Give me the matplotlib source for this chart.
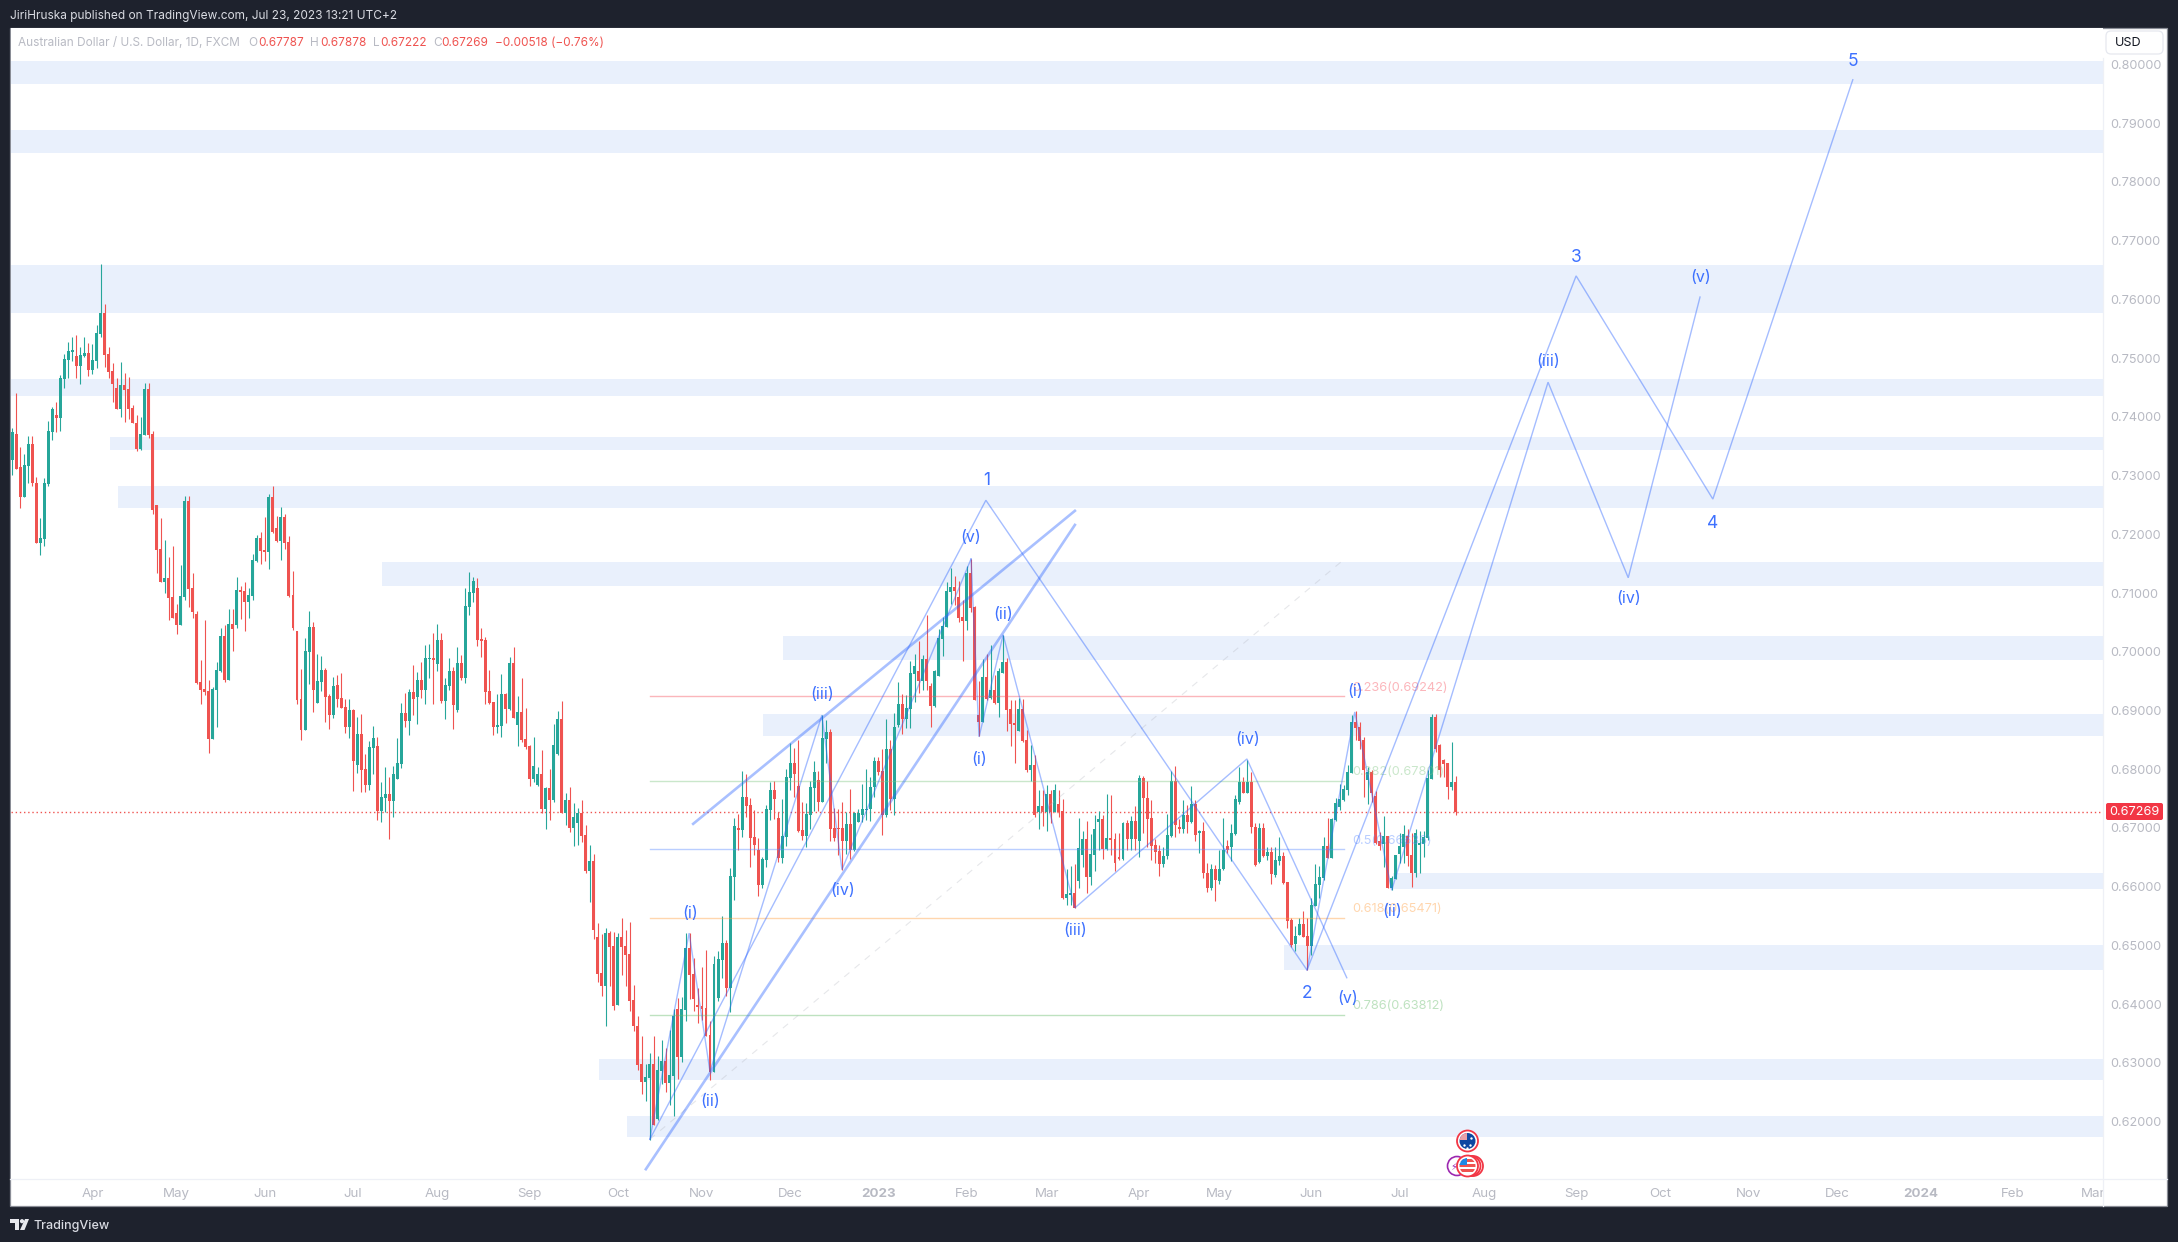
import numpy as np
import matplotlib
matplotlib.use("Agg")
import matplotlib.pyplot as plt
from matplotlib.patches import Rectangle, Circle, FancyBboxPatch, Polygon
from matplotlib.transforms import Bbox

plt.rcParams['font.family'] = ['Inter', 'DejaVu Sans']

# daily AUD/USD bars, in 1/10000 of a dollar
opens = [
    7327,7371,7315,7264,7316,7354,7287,7185,7192,7286,
    7374,7403,7398,7465,7497,7510,7504,7487,7504,7509,
    7480,7495,7541,7577,7507,7478,7449,7413,7454,7447,
    7415,7390,7345,7369,7447,7371,7250,7175,7119,7126,
    7093,7066,7046,7093,7257,7109,7064,6949,6937,6933,
    6852,6935,6967,7027,6952,7047,7046,7105,7103,7085,
    7095,7155,7194,7173,7170,7264,7211,7189,7230,7187,
    7097,7036,6920,6867,7000,7042,6913,6949,6969,6925,
    6893,6943,6921,6906,6872,6901,6807,6860,6801,6773,
    6836,6840,6729,6751,6758,6746,6783,6809,6896,6882,
    6931,6923,6952,6935,6988,6989,6979,7020,6916,6941,
    6967,6901,6981,6955,7076,7100,7108,7022,7020,6933,
    6914,6872,6874,6928,6903,6981,6875,6897,6851,6839,
    6783,6773,6792,6732,6768,6748,6826,6885,6725,6748,
    6700,6708,6725,6688,6627,6644,6514,6453,6431,6521,
    6499,6399,6514,6499,6485,6407,6363,6298,6268,6274,
    6298,6204,6286,6303,6266,6278,6392,6310,6390,6496,
    6451,6399,6397,6394,6348,6285,6411,6475,6504,6428,
    6617,6700,6697,6753,6739,6685,6663,6603,6646,6731,
    6765,6717,6649,6685,6785,6811,6772,6697,6686,6722,
    6768,6782,6744,6852,6863,6700,6700,6700,6678,6707,
    6663,6711,6722,6731,6732,6770,6814,6797,6722,6834,
    6750,6875,6911,6885,6903,6962,6967,6950,6988,6942,
    6908,6959,7022,7042,7102,7110,7093,7059,7052,7134,
    7076,6892,6880,6957,6921,6935,6913,6964,6983,6903,
    6879,6865,6903,6850,6799,6807,6727,6737,6727,6758,
    6727,6741,6729,6581,6586,6589,6610,6654,6681,6617,
    6654,6711,6715,6664,6683,6681,6651,6647,6708,6681,
    6712,6678,6785,6751,6717,6671,6661,6639,6652,6686,
    6780,6702,6698,6722,6710,6741,6691,6695,6624,6598,
    6630,6610,6630,6669,6668,6690,6744,6778,6760,6778,
    6702,6642,6700,6652,6659,6620,6644,6652,6608,6543,
    6502,6518,6537,6516,6499,6567,6603,6615,6669,6649,
    6714,6736,6748,6765,6794,6880,6872,6850,6782,6795,
    6755,6678,6673,6686,6598,6613,6656,6668,6686,6654,
    6623,6671,6673,6683,6783,6889,6841,6816,6811,6770,
    6779]
highs = [
    7381,7441,7349,7337,7367,7367,7298,7228,7296,7393,
    7417,7425,7471,7507,7527,7536,7539,7519,7536,7526,
    7524,7556,7660,7592,7519,7492,7466,7493,7475,7468,
    7420,7403,7400,7458,7458,7376,7250,7228,7190,7161,
    7180,7082,7148,7265,7265,7134,7070,6986,7054,6952,
    6940,6983,7041,7046,7073,7073,7128,7112,7119,7109,
    7167,7199,7204,7230,7269,7282,7231,7247,7235,7197,
    7138,7036,6971,7024,7070,7051,6996,6993,6973,6928,
    6957,6960,6964,6920,6920,6903,6889,6894,6826,6848,
    6874,6855,6778,6804,6787,6805,6853,6913,6930,6937,
    6977,6965,6982,7011,7013,7032,7047,7032,6955,6989,
    6974,7008,6994,7108,7136,7127,7125,7040,7025,6969,
    6914,6928,6962,6930,6991,7008,6925,6955,6904,6841,
    6855,6804,6833,6770,6800,6877,6899,6916,6759,6770,
    6742,6734,6747,6705,6671,6656,6538,6520,6530,6525,
    6523,6521,6547,6526,6540,6433,6380,6346,6298,6317,
    6346,6312,6339,6325,6356,6392,6411,6412,6521,6521,
    6479,6428,6463,6492,6371,6482,6491,6550,6510,6632,
    6717,6724,6797,6792,6751,6730,6683,6651,6739,6778,
    6780,6727,6749,6800,6845,6836,6850,6744,6743,6780,
    6814,6797,6892,6884,6869,6734,6733,6744,6727,6766,
    6727,6733,6775,6800,6787,6821,6821,6834,6885,6850,
    6895,6949,6928,6926,6984,6997,7019,6994,7063,6947,
    6969,7039,7059,7119,7143,7129,7121,7088,7146,7158,
    7078,6950,6988,6996,7012,6960,6972,7029,6989,6918,
    6918,6921,6920,6867,6841,6824,6765,6765,6773,6765,
    6775,6765,6750,6630,6635,6639,6717,6695,6712,6690,
    6722,6729,6722,6758,6756,6691,6691,6710,6713,6720,
    6737,6790,6789,6780,6748,6682,6671,6668,6724,6797,
    6805,6716,6748,6739,6771,6748,6696,6711,6640,6639,
    6637,6663,6717,6680,6707,6756,6804,6786,6816,6795,
    6708,6708,6708,6668,6668,6668,6685,6659,6608,6547,
    6533,6547,6559,6547,6580,6639,6635,6685,6717,6717,
    6751,6775,6773,6807,6892,6899,6880,6855,6804,6799,
    6763,6693,6720,6687,6618,6654,6691,6705,6698,6691,
    6699,6694,6695,6798,6894,6894,6843,6818,6811,6846,
    6788]
lows = [
    7301,7311,7245,7264,7287,7283,7185,7165,7180,7282,
    7361,7374,7376,7449,7466,7495,7466,7456,7502,7470,
    7473,7483,7536,7485,7466,7425,7413,7400,7391,7397,
    7390,7342,7344,7369,7364,7235,7134,7119,7100,7054,
    7058,7030,7046,7088,7076,7058,6945,6911,6927,6828,
    6852,6872,6965,6949,6952,7002,7040,7056,7036,7058,
    7088,7153,7150,7155,7141,7202,7187,7156,7175,7093,
    7037,6911,6850,6867,6945,6898,6913,6933,6880,6869,
    6887,6906,6904,6862,6853,6763,6794,6761,6761,6765,
    6792,6714,6710,6727,6681,6719,6783,6802,6872,6858,
    6892,6877,6921,6911,6955,6911,6967,6913,6885,6935,
    6868,6897,6952,6947,7063,7085,7010,6991,6911,6911,
    6858,6862,6855,6879,6901,6887,6839,6846,6834,6771,
    6778,6771,6725,6698,6713,6744,6824,6725,6705,6693,
    6669,6671,6676,6623,6574,6511,6438,6414,6363,6431,
    6390,6399,6450,6431,6388,6354,6288,6247,6235,6169,
    6194,6203,6264,6250,6228,6210,6273,6302,6371,6409,
    6388,6368,6373,6345,6271,6285,6405,6445,6414,6387,
    6577,6663,6685,6719,6634,6654,6584,6598,6634,6714,
    6715,6642,6640,6669,6765,6753,6693,6680,6668,6699,
    6729,6729,6744,6810,6677,6677,6654,6629,6656,6648,
    6661,6711,6711,6713,6712,6753,6790,6688,6718,6731,
    6722,6872,6860,6871,6870,6915,6930,6935,6935,6872,
    6906,6959,6993,7042,7081,7080,7051,6984,7037,7068,
    6918,6856,6880,6918,6920,6911,6889,6964,6865,6840,
    6811,6865,6846,6796,6780,6719,6698,6703,6695,6708,
    6727,6719,6579,6569,6569,6564,6597,6634,6589,6603,
    6627,6663,6648,6663,6654,6627,6645,6645,6663,6663,
    6663,6651,6691,6668,6645,6640,6619,6634,6648,6684,
    6685,6691,6691,6691,6708,6678,6658,6614,6591,6594,
    6575,6605,6628,6657,6643,6688,6741,6759,6759,6691,
    6635,6640,6650,6645,6604,6616,6637,6604,6529,6497,
    6491,6518,6515,6458,6484,6567,6580,6611,6649,6649,
    6712,6731,6746,6756,6793,6850,6835,6753,6741,6745,
    6672,6663,6634,6598,6594,6613,6640,6640,6635,6599,
    6616,6623,6651,6680,6783,6830,6787,6787,6750,6765,
    6722]
closes = [
    7374,7312,7264,7318,7354,7287,7185,7194,7287,7376,
    7413,7398,7466,7498,7512,7514,7487,7505,7509,7480,
    7497,7543,7577,7505,7476,7456,7413,7454,7446,7413,
    7390,7345,7371,7447,7369,7241,7173,7119,7126,7092,
    7058,7046,7095,7257,7107,7068,6947,6935,6932,6852,
    6937,6969,7027,6952,7047,7039,7105,7102,7085,7097,
    7156,7194,7172,7170,7264,7204,7189,7230,7185,7095,
    7041,6918,6867,7002,7042,6935,6950,6969,6923,6892,
    6942,6920,6904,6872,6901,6814,6860,6799,6773,6838,
    6853,6729,6753,6758,6746,6792,6811,6896,6882,6931,
    6919,6952,6935,6989,6989,6986,7020,6916,6943,6967,
    6909,6981,6955,7078,7102,7120,7020,7018,6931,6913,
    6872,6875,6928,6903,6981,6887,6897,6850,6838,6783,
    6805,6792,6732,6768,6748,6841,6885,6725,6748,6700,
    6719,6725,6686,6627,6644,6526,6451,6431,6521,6497,
    6397,6514,6497,6484,6405,6363,6296,6268,6276,6298,
    6195,6288,6303,6266,6279,6380,6310,6392,6496,6450,
    6409,6395,6392,6345,6285,6468,6477,6504,6428,6618,
    6703,6697,6753,6737,6683,6671,6603,6647,6732,6765,
    6749,6649,6686,6787,6811,6792,6695,6686,6724,6770,
    6795,6744,6853,6863,6698,6683,6698,6678,6707,6663,
    6725,6725,6732,6733,6770,6814,6795,6722,6834,6750,
    6872,6911,6885,6904,6964,6976,6950,6988,6950,6908,
    6967,7023,7044,7104,7110,7104,7058,7052,7134,7075,
    6918,6880,6957,6920,6935,6913,6967,6983,6901,6877,
    6875,6903,6848,6799,6807,6722,6737,6727,6758,6727,
    6765,6727,6581,6588,6589,6564,6666,6681,6617,6656,
    6698,6715,6664,6683,6680,6640,6647,6708,6681,6712,
    6681,6785,6751,6715,6669,6659,6639,6652,6688,6780,
    6705,6698,6722,6710,6741,6688,6695,6624,6598,6630,
    6612,6630,6662,6662,6691,6750,6778,6760,6778,6701,
    6637,6700,6652,6659,6622,6645,6652,6606,6542,6501,
    6516,6537,6515,6499,6569,6605,6617,6669,6649,6715,
    6743,6749,6766,6795,6880,6870,6848,6798,6795,6759,
    6674,6669,6686,6598,6615,6654,6669,6690,6652,6624,
    6691,6675,6685,6785,6889,6835,6799,6809,6770,6778,
    6727]

last_price = 0.67269
price_ticks = [0.62, 0.63, 0.64, 0.65, 0.66, 0.67, 0.68, 0.69, 0.70, 0.71,
               0.72, 0.73, 0.74, 0.75, 0.76, 0.77, 0.78, 0.79, 0.80]
month_bars = [20, 41, 63, 85, 106, 129, 151, 172, 194, 216, 238, 258, 281, 301,
              324, 346, 367, 390, 411, 433, 455, 476, 499, 519]
month_names = ['Apr', 'May', 'Jun', 'Jul', 'Aug', 'Sep', 'Oct', 'Nov', 'Dec', '2023', 'Feb', 'Mar',
               'Apr', 'May', 'Jun', 'Jul', 'Aug', 'Sep', 'Oct', 'Nov', 'Dec', '2024', 'Feb', 'Mar']

# supply/demand zones: first bar, top, bottom
zone_start = [-2, -2, -2, -2, 24.4, 26.4, 92.2, 192.2, 187.2, 344.3, 317.1, 146.3, 153.3]
zone_top = [.8006, .78885, .7659, .7465, .7366, .7282, .7153, .7027, .6894, .6623, .6501, .6307, .6210]
zone_bot = [.7967, .7849, .7577, .7436, .7344, .7245, .7112, .6986, .6857, .6596, .6458, .6271, .6174]

# fibonacci retracement
fib_names = ['0.236(0.69242)', '0.382(0.67801)', '0.5(0.66636)', '0.618(0.65471)', '0.786(0.63812)']
fib_levels = [0.69242, 0.67801, 0.66636, 0.65471, 0.63812]
fib_colors = ['#f7525f', '#81c784', '#5b8cff', '#ff9f40', '#66bb6a']
fib_bars = [159, 332]
fib_diag_bars = [159, 331.9]
fib_diag_prices = [0.6170, 0.7156]

# elliott wave paths
big_bars = [159, 242.8, 322.9, 390, 424.1, 459]
big_prices = [.6170, .7258, .6458, .7640, .7260, .7974]
sub1_bars = [159, 168.8, 174, 201.9, 206.9, 239.1]
sub1_prices = [.6170, .6521, .6285, .6892, .6629, .7158]
sub2_bars = [239.1, 241.1, 247.1, 265, 307.9, 332.8]
sub2_prices = [.7158, .6855, .7029, .6564, .68175, .6445]
sub3_bars = [322.9, 334.8, 344, 383, 403, 420.9]
sub3_prices = [.6458, .68975, .6594, .7459, .7126, .7604]

# channel lines
channel_bars = [[158, 265], [169.8, 265]]
channel_prices = [[.6119, .7216], [.6707, .7240]]

wave_names = ['(i)', '(ii)', '(iii)', '(iv)', '(v)', '(i)', '(ii)', '(iii)', '(iv)', '(v)',
              '(i)', '(ii)', '(iii)', '(iv)', '(v)']
wave_bars = [169, 174, 202, 207, 239, 241, 247, 265, 308, 333, 335, 344, 383, 403, 421]
wave_prices = [.6555, .6235, .6928, .6593, .7194, .6817, .7063, .6526, .6851, .6409,
               .6933, .6557, .7495, .7090, .7638]
big_names = ['1', '2', '3', '4', '5']
big_label_bars = [243, 323, 390, 424, 459]
big_label_prices = [.7291, .6418, .7671, .7218, .8005]

o = np.array(opens) / 10000
h = np.array(highs) / 10000
l = np.array(lows) / 10000
c = np.array(closes) / 10000
bars = np.arange(len(o))

GREEN = '#26a69a'
RED = '#ef5350'
ZONE = '#e9f0fc'
BLUE = '#2962ff'
GRAY = '#b8bac3'
DARK = '#1e222d'
W, H = 2178, 1242

fig = plt.figure(figsize=(W / 100, H / 100), dpi=100, facecolor=DARK)

# full figure pixel axes for the frame, behind everything
bg = fig.add_axes([0, 0, 1, 1], zorder=0)
bg.set_xlim(0, W)
bg.set_ylim(H, 0)
bg.axis('off')
bg.add_patch(Rectangle((10, 27.5), 2157, 1178.5, fc='white', ec='#8a8d96', lw=0.9))

ax = fig.add_axes([10.5 / W, 1 - 1179 / H, (2103 - 10.5) / W, (1179 - 28) / H], zorder=1)
ax.set_xlim(-0.45, 521.4)
ax.set_ylim(0.61023, 0.80621)
for s in ax.spines.values():
    s.set_visible(False)

for st, top, bot in zip(zone_start, zone_top, zone_bot):
    ax.add_patch(Rectangle((st, bot), 530, top - bot, fc=ZONE, ec='none', zorder=1))

# last price line
ax.axhline(last_price, color=RED, lw=1.0, ls=(0, (1, 2)), zorder=1.5)

# candles
up = c >= o
cols = np.where(up, GREEN, RED)
ax.vlines(bars, l, h, colors=cols, lw=0.8, zorder=2)
ax.bar(bars, np.maximum(np.abs(c - o), 0.0002), bottom=np.minimum(o, c), width=0.74,
       color=cols, lw=0, zorder=2.1)

# fib levels
for name, lev, col in zip(fib_names, fib_levels, fib_colors):
    ax.plot(fib_bars, [lev, lev], color=col, lw=1.0, alpha=0.42, zorder=3)
    ax.annotate(name, (fib_bars[1], lev), xytext=(6.5, 6.3), textcoords='offset points',
                color=col, alpha=0.42, fontsize=9.2, va='center', ha='left', zorder=3)
ax.plot(fib_diag_bars, fib_diag_prices, color='#b2b5be', lw=0.8, alpha=0.32,
        ls=(0, (6, 6)), zorder=3)

# wave drawings
for xs, ys in [(big_bars, big_prices), (sub1_bars, sub1_prices),
               (sub2_bars, sub2_prices), (sub3_bars, sub3_prices)]:
    ax.plot(xs, ys, color=BLUE, lw=1.0, alpha=0.42, zorder=4, solid_joinstyle='miter')
for xs, ys in zip(channel_bars, channel_prices):
    ax.plot(xs, ys, color=BLUE, lw=1.9, alpha=0.4, zorder=4)
for name, x, y in zip(wave_names, wave_bars, wave_prices):
    ax.text(x, y, name, color=BLUE, alpha=0.9, fontsize=11.5, ha='center', va='center', zorder=5)
for name, x, y in zip(big_names, big_label_bars, big_label_prices):
    ax.text(x, y, name, color=BLUE, alpha=0.9, fontsize=12.5, ha='center', va='center', zorder=5)

ax.yaxis.tick_right()
ax.set_yticks(price_ticks)
ax.set_yticklabels(['%.5f' % p for p in price_ticks], color=GRAY, fontsize=9.1)
ax.tick_params(axis='y', length=0, pad=5)
ax.set_xticks(month_bars)
ax.set_xticklabels(month_names, color=GRAY, fontsize=9.6)
ax.tick_params(axis='x', length=0, pad=6.5)
for lab, name in zip(ax.get_xticklabels(), month_names):
    if name in ('2023', '2024'):
        lab.set_fontweight('bold')
    lab.set_clip_on(True)
    lab.set_clip_box(Bbox([[0, 0], [2103, H]]))

# pixel overlay for chrome
ov = fig.add_axes([0, 0, 1, 1], zorder=2)
ov.set_xlim(0, W)
ov.set_ylim(H, 0)
ov.axis('off')
ov.patch.set_alpha(0)

ov.plot([2103, 2103], [58, 1206], color='#eef0f6', lw=0.9)
ov.plot([10, 2167], [1179, 1179], color='#eef0f6', lw=0.9)

ov.text(10, 16, 'JiriHruska published on TradingView.com, Jul 23, 2023 13:21 UTC+2',
        color='#d9dbe2', fontsize=8.55, va='center')
ov.text(18, 43, 'Australian Dollar / U.S. Dollar, 1D, FXCM', color=GRAY, fontsize=8.5, va='center')
head_x = [248, 258, 310, 320, 373, 380, 433, 441, 495]
head_txt = ['O', '0.67787', 'H', '0.67878', 'L', '0.67222', 'C', '0.67269', '\u22120.00518 (\u22120.76%)']
head_col = [GRAY, RED, GRAY, RED, GRAY, RED, GRAY, RED, RED]
for x, t, col in zip(head_x, head_txt, head_col):
    ov.text(x, 43, t, color=col, fontsize=8.5, va='center')

ov.add_patch(FancyBboxPatch((2108, 33), 53, 19, boxstyle='round,pad=2,rounding_size=5',
                            fc='white', ec='#e6e8ef', lw=0.9))
ov.text(2115, 43.5, 'USD', color='#131722', fontsize=9.1, va='center')

ov.add_patch(FancyBboxPatch((2107, 804), 55, 15, boxstyle='round,pad=1,rounding_size=2',
                            fc='#f23645', ec='none'))
ov.text(2134.5, 811.8, '%.5f' % last_price, color='white', fontsize=9.1, ha='center', va='center')

# logo and name in the bottom bar
ov.add_patch(Polygon([[10, 1219], [19, 1219], [19, 1230], [14.5, 1230], [14.5, 1223], [10, 1223]],
                     fc='#e8e9ee', ec='none'))
ov.add_patch(Circle((22, 1221.2), 2.1, fc='#e8e9ee', ec='none'))
ov.add_patch(Polygon([[25, 1219], [29, 1219], [24.5, 1230], [20, 1230]], fc='#e8e9ee', ec='none'))
ov.text(34, 1225.5, 'TradingView', color='#d9dbe2', fontsize=9.0, fontweight='medium', va='center')

# event markers
ov.add_patch(Circle((1457, 1166), 9.5, fc='white', ec='#9c27b0', lw=1.2))
ov.text(1454, 1167, '\u26a1', color='#9c27b0', fontsize=7, ha='center', va='center',
        family=['DejaVu Sans'])
for cx in (1473, 1470.5):
    ov.add_patch(Circle((cx, 1166), 10, fc='white', ec='#f23645', lw=1.3))
ring = Circle((1467.5, 1166), 10.5, fc='white', ec='#f23645', lw=1.3)
ov.add_patch(ring)
face = Circle((1467.5, 1166), 8, fc='white', ec='none', transform=ov.transData)
ov.add_patch(face)
for sy in (1159, 1164, 1169):
    st = Rectangle((1459, sy), 18, 2.6, fc='#ef5350', ec='none')
    ov.add_patch(st)
    st.set_clip_path(face)
canton = Rectangle((1459, 1157), 8, 7.5, fc='#1e88e5', ec='none')
ov.add_patch(canton)
canton.set_clip_path(face)

ov.add_patch(Circle((1467.5, 1141), 10.5, fc='white', ec='#f23645', lw=1.3))
ov.add_patch(Circle((1467.5, 1141), 8, fc='#0d47a1', ec='none'))
aus = Rectangle((1459, 1133), 7.5, 6.5, fc='#e8a0a8', ec='none')
ov.add_patch(aus)
aus.set_clip_path(Circle((1467.5, 1141), 8, transform=ov.transData))
ov.scatter([1464, 1471, 1470, 1467], [1145, 1138, 1145, 1147.5], s=3, c='white', lw=0)

fig.savefig('out.png', dpi=100, facecolor=DARK)
